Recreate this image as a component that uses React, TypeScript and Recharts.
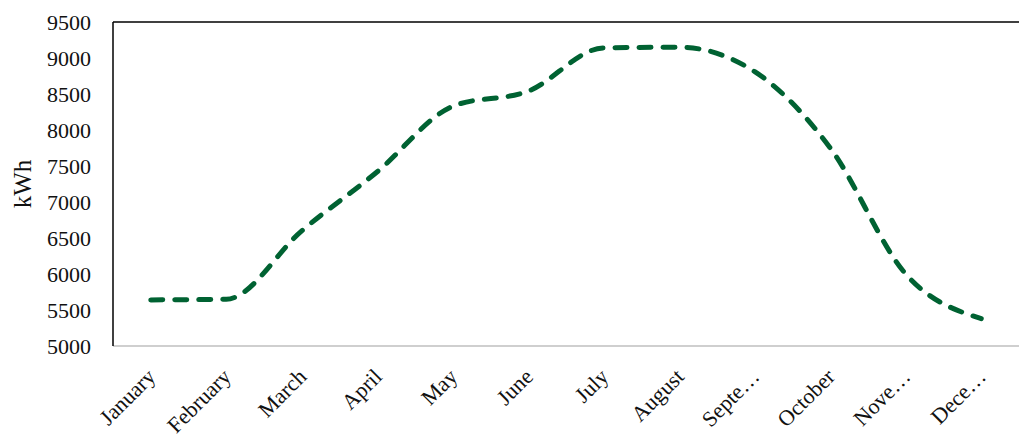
import React from 'react';
import { LineChart, Line, XAxis, YAxis, ReferenceLine } from 'recharts';

const months = [
  'January', 'February', 'March', 'April', 'May', 'June',
  'July', 'August', 'September', 'October', 'November', 'December',
];
const monthLabels = [
  'January', 'February', 'March', 'April', 'May', 'June',
  'July', 'August', 'Septe…', 'October', 'Nove…', 'Dece…',
];
const energy = [5640, 5650, 6600, 7420, 8330, 8540, 9140, 9150, 8810, 7750, 6000, 5380];
const yTicks = [5000, 5500, 6000, 6500, 7000, 7500, 8000, 8500, 9000, 9500];

const data = months.map((m, i) => ({ month: m, label: monthLabels[i], kwh: energy[i] }));

const font = '"Liberation Serif", "Times New Roman", serif';

const App: React.FC = () => {
  return (
    <div style={{ position: 'absolute', left: 0, top: 0, background: '#fff' }}>
      <LineChart
        width={1019}
        height={434}
        data={data}
        margin={{ top: 22, right: 0, bottom: 0, left: 0 }}
      >
        <XAxis
          dataKey="label"
          height={88}
          interval={0}
          padding={{ left: 37.75, right: 37.75 }}
          tickLine={false}
          axisLine={{ stroke: '#bfbfbf', strokeWidth: 1.5 }}
          angle={-45}
          textAnchor="end"
          tickSize={0}
          tickMargin={21}
          dx={-5}
          tick={{ fill: '#111', fontSize: 22, fontFamily: font }}
        />
        <YAxis
          width={113}
          domain={[5000, 9500]}
          ticks={yTicks}
          interval={0}
          tickLine={false}
          tickSize={0}
          tickMargin={22}
          axisLine={{ stroke: '#000', strokeWidth: 1.5 }}
          tick={{ fill: '#111', fontSize: 22, fontFamily: font }}
          label={{
            value: 'kWh',
            angle: -90,
            position: 'insideLeft',
            offset: 22,
            textAnchor: 'middle',
            style: { fill: '#111', fontSize: 25, fontFamily: font, textAnchor: 'middle' },
          }}
        />
        <ReferenceLine y={9500} stroke="#000" strokeWidth={1.5} />
        <Line
          type="monotone"
          dataKey="kwh"
          stroke="#006232"
          strokeWidth={5}
          strokeDasharray="12 12"
          strokeLinecap="round"
          dot={false}
          activeDot={false}
          isAnimationActive={false}
        />
      </LineChart>
    </div>
  );
};

export default App;
